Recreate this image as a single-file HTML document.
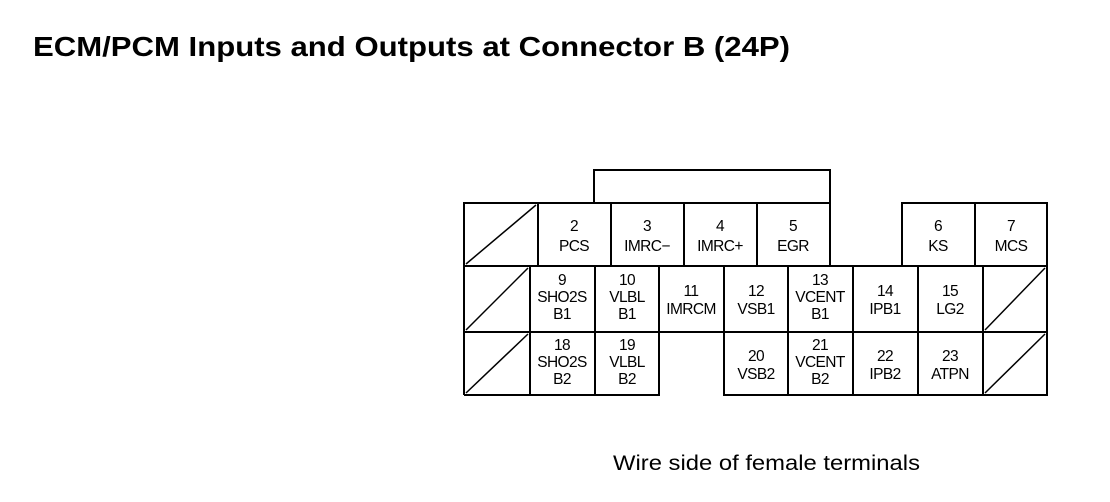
<!DOCTYPE html>
<html><head><style>
html,body{margin:0;padding:0;background:#fff;}
body{width:1110px;height:502px;position:relative;overflow:hidden;}
svg{position:absolute;left:0;top:0;}
</style></head><body>
<svg width="1110" height="502" xmlns="http://www.w3.org/2000/svg" font-family="Liberation Sans, sans-serif">
<text x="33" y="56" font-size="28" font-weight="bold" fill="#000" textLength="757" lengthAdjust="spacingAndGlyphs">ECM/PCM Inputs and Outputs at Connector B (24P)</text>
<text x="613" y="470" font-size="21" fill="#000" textLength="307" lengthAdjust="spacingAndGlyphs">Wire side of female terminals</text>
<g stroke="#000" stroke-width="2" fill="none">
<polyline points="594,203 594,170 830,170 830,203"/>
<polyline points="464,395 464,203 830,203 830,266"/>
<polyline points="902,266 902,203 1047,203 1047,395 724,395 724,332"/>
<polyline points="659,332 659,395 464,395"/>
<line x1="659" y1="332" x2="724" y2="332"/>
<line x1="464" y1="266" x2="1047" y2="266"/>
<line x1="464" y1="332" x2="659" y2="332"/>
<line x1="724" y1="332" x2="1047" y2="332"/>
<line x1="538" y1="203" x2="538" y2="266"/>
<line x1="611" y1="203" x2="611" y2="266"/>
<line x1="684" y1="203" x2="684" y2="266"/>
<line x1="757" y1="203" x2="757" y2="266"/>
<line x1="975" y1="203" x2="975" y2="266"/>
<line x1="530" y1="266" x2="530" y2="395"/>
<line x1="595" y1="266" x2="595" y2="395"/>
<line x1="659" y1="266" x2="659" y2="332"/>
<line x1="724" y1="266" x2="724" y2="332"/>
<line x1="788" y1="266" x2="788" y2="395"/>
<line x1="853" y1="266" x2="853" y2="395"/>
<line x1="918" y1="266" x2="918" y2="395"/>
<line x1="983" y1="266" x2="983" y2="395"/>
</g>
<g stroke="#000" stroke-width="1.5">
<line x1="466" y1="264" x2="536" y2="205"/>
<line x1="466" y1="330" x2="528" y2="268"/>
<line x1="466" y1="393" x2="528" y2="334"/>
<line x1="985" y1="330" x2="1045" y2="268"/>
<line x1="985" y1="393" x2="1045" y2="334"/>
</g>
<g font-size="15.5" text-anchor="middle" fill="#000" letter-spacing="-0.6">
<text x="574" y="231">2</text><text x="574" y="251">PCS</text>
<text x="647" y="231">3</text><text x="647" y="251">IMRC−</text>
<text x="720" y="231">4</text><text x="720" y="251">IMRC+</text>
<text x="793" y="231">5</text><text x="793" y="251">EGR</text>
<text x="938" y="231">6</text><text x="938" y="251">KS</text>
<text x="1011" y="231">7</text><text x="1011" y="251">MCS</text>
<text x="562" y="285">9</text><text x="562" y="302">SHO2S</text><text x="562" y="319">B1</text>
<text x="627" y="285">10</text><text x="627" y="302">VLBL</text><text x="627" y="319">B1</text>
<text x="691" y="296">11</text><text x="691" y="314">IMRCM</text>
<text x="756" y="296">12</text><text x="756" y="314">VSB1</text>
<text x="820" y="285">13</text><text x="820" y="302">VCENT</text><text x="820" y="319">B1</text>
<text x="885" y="296">14</text><text x="885" y="314">IPB1</text>
<text x="950" y="296">15</text><text x="950" y="314">LG2</text>
<text x="562" y="350">18</text><text x="562" y="367">SHO2S</text><text x="562" y="384">B2</text>
<text x="627" y="350">19</text><text x="627" y="367">VLBL</text><text x="627" y="384">B2</text>
<text x="756" y="361">20</text><text x="756" y="379">VSB2</text>
<text x="820" y="350">21</text><text x="820" y="367">VCENT</text><text x="820" y="384">B2</text>
<text x="885" y="361">22</text><text x="885" y="379">IPB2</text>
<text x="950" y="361">23</text><text x="950" y="379">ATPN</text>
</g>
</svg>
</body></html>
